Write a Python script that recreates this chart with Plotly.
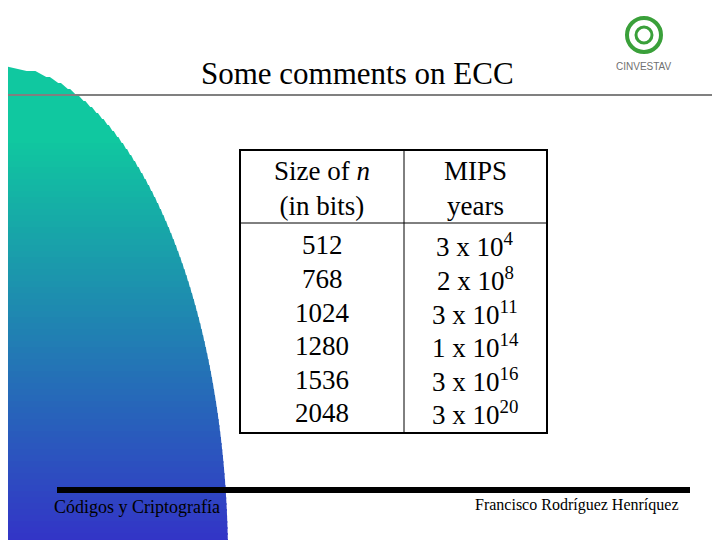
import plotly.graph_objects as go
import numpy as np

title = "Some comments on ECC"
header = ["Size of <i>n</i><br>(in bits)", "MIPS<br>years"]
sizes = [512, 768, 1024, 1280, 1536, 2048]
coef = [3, 2, 3, 1, 3, 3]
expo = [4, 8, 11, 14, 16, 20]
footer_left = "Códigos y Criptografía"
footer_right = "Francisco Rodríguez Henríquez"

SERIF = "Liberation Serif"
fig = go.Figure()
shapes = []
top, bottom = 65, 545
cy, a, b = 560, 228, 495
n = 80
ys = np.linspace(top, bottom, n + 1)
c0 = np.array([16, 200, 160]); c1 = np.array([52, 50, 200])
for i in range(n):
    y0, y1 = ys[i], ys[i + 1]
    x0 = a * np.sqrt(max(0, 1 - ((cy - y0) / b) ** 2))
    x1 = a * np.sqrt(max(0, 1 - ((cy - y1) / b) ** 2))
    t = (y0 - top) / (bottom - top)
    t = max(0, (t - 0.15) / 0.85)
    c = (c0 + (c1 - c0) * t).astype(int)
    col = f"rgb({c[0]},{c[1]},{c[2]})"
    shapes.append(dict(type="path", path=f"M-10,{y0} L{x0},{y0} L{x1},{y1+2} L-10,{y1+2} Z",
                       fillcolor=col, line=dict(width=0), layer="below"))
shapes.append(dict(type="line", x0=0, x1=730, y0=95, y1=95, line=dict(color="#808080", width=2)))
shapes.append(dict(type="line", x0=57, x1=690, y0=490, y1=490, line=dict(color="black", width=6)))
shapes.append(dict(type="rect", x0=240, x1=547, y0=150, y1=433, line=dict(color="black", width=2), fillcolor="white"))
shapes.append(dict(type="line", x0=404, x1=404, y0=150, y1=433, line=dict(color="black", width=1)))
shapes.append(dict(type="line", x0=240, x1=547, y0=223, y1=223, line=dict(color="black", width=1)))
shapes.append(dict(type="circle", x0=627, x1=661, y0=18, y1=52, line=dict(color="#3aa03a", width=4)))
shapes.append(dict(type="circle", x0=636, x1=652, y0=27, y1=43, line=dict(color="#3aa03a", width=3)))

ann = []
ann.append(dict(x=357, y=73, text=title, font=dict(family=SERIF, size=31, color="black")))
ann.append(dict(x=644, y=66, text="CINVESTAV", font=dict(family="Arial", size=10, color="#707070")))
ann.append(dict(x=322, y=188, text=header[0], font=dict(family=SERIF, size=27, color="black")))
ann.append(dict(x=475, y=188, text=header[1], font=dict(family=SERIF, size=27, color="black")))
row_y = [245, 279, 313, 346, 380, 413]
for yy, s, c, e in zip(row_y, sizes, coef, expo):
    ann.append(dict(x=322, y=yy, text=str(s), font=dict(family=SERIF, size=27, color="black")))
    ann.append(dict(x=475, y=yy, text=f"{c} x 10<sup>{e}</sup>", font=dict(family=SERIF, size=27, color="black")))
ann.append(dict(x=137, y=507, text=footer_left, font=dict(family=SERIF, size=18, color="black")))
ann.append(dict(x=576, y=505, text=footer_right, font=dict(family=SERIF, size=16, color="black")))
for d in ann:
    d.update(xref="x", yref="y", showarrow=False, xanchor="center", yanchor="middle")

fig.update_layout(width=720, height=540, margin=dict(l=0, r=0, t=0, b=0),
                  plot_bgcolor="white", paper_bgcolor="white", shapes=shapes, annotations=ann,
                  xaxis=dict(range=[8, 728], visible=False, fixedrange=True),
                  yaxis=dict(range=[548, 8], visible=False, fixedrange=True),
                  showlegend=False)
fig.write_html("out.html")
